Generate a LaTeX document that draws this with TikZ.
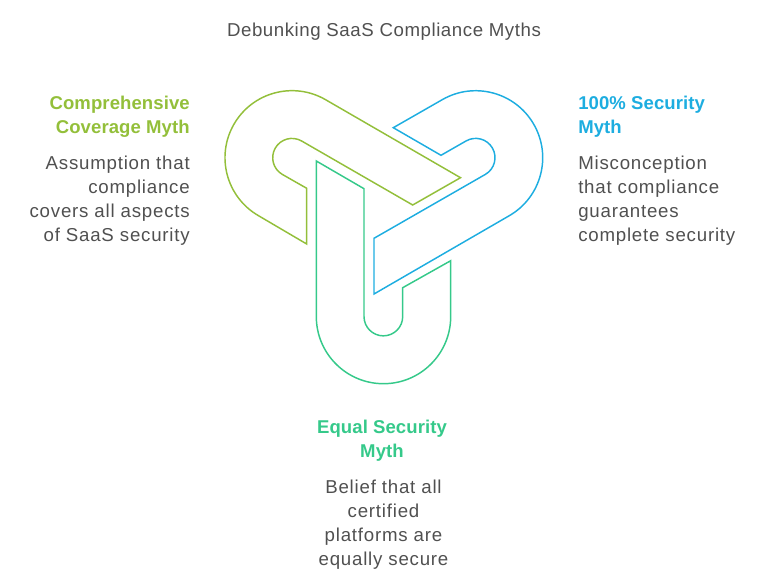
\documentclass[tikz,border=0pt]{standalone}
\usepackage{fontspec}
\setmainfont{Liberation Sans}
\newfontfamily\titlefont[LetterSpace=3]{Liberation Sans}
\newfontfamily\bodyfont[LetterSpace=4.2]{Liberation Sans}
\newfontfamily\headfont[LetterSpace=0.5]{Liberation Sans}
\definecolor{olivec}{HTML}{93BF3A}
\definecolor{bluec}{HTML}{1DADE0}
\definecolor{greenc}{HTML}{35C98A}
\definecolor{textc}{HTML}{505050}
\tikzset{
 outline/.style={line width=1.1pt,line join=miter,fill=none},
 head/.style={font=\headfont\fontsize{13.9}{18}\selectfont\bfseries,inner sep=0pt},
 body/.style={font=\bodyfont\fontsize{14}{18}\selectfont,text=textc,inner sep=0pt},
 titletext/.style={font=\titlefont\fontsize{14}{18}\selectfont,text=textc,inner sep=0pt},
}
\begin{document}
\begin{tikzpicture}[x=0.75pt,y=-0.75pt]
\useasboundingbox (0,0) rectangle (768,578);
\node[titletext,anchor=center] (title) at (384,31.5) {Debunking SaaS Compliance Myths};
% olive
\draw[outline,olivec] (306.7,188.3) -- (306.7,244) -- (258.5,215.7)
  arc[start angle=120,end angle=300,radius=67] -- (460.5,177.7) -- (412.7,205) -- (301.65,141)
  arc[start angle=300,end angle=120,radius=19.3] -- cycle;
% blue
\draw[outline,bluec] (393.3,127.7) -- (442.2,99.7)
  arc[start angle=240,end angle=420,radius=67] -- (374,294) -- (374,238.3) -- (485.35,174.4)
  arc[start angle=60,end angle=-120,radius=19.3] -- (441,155.3) -- cycle;
% green
\draw[outline,greenc] (316.3,161) -- (364,188.7) -- (364,316.5)
  arc[start angle=180,end angle=0,radius=19.35] -- (402.7,287.7) -- (450.7,260.7) -- (450.7,316.5)
  arc[start angle=0,end angle=180,radius=67.2] -- cycle;
% texts
\node[head,text=olivec,align=right,anchor=north east] (lh) at (190,96) {Comprehensive\\Coverage Myth};
\node[body,align=right,anchor=north east] (lb) at (190,155.5) {Assumption that\\compliance\\covers all aspects\\of SaaS security};
\node[head,text=bluec,align=left,anchor=north west] (rh) at (578,96) {100\% Security\\Myth};
\node[body,align=left,anchor=north west] (rb) at (578,155.5) {Misconception\\that compliance\\guarantees\\complete security};
\node[head,text=greenc,align=center,anchor=north] (bh) at (382,420) {Equal Security\\Myth};
\node[body,align=center,anchor=north] (bb) at (383.5,479.5) {Belief that all\\certified\\platforms are\\equally secure};
\end{tikzpicture}
\end{document}
